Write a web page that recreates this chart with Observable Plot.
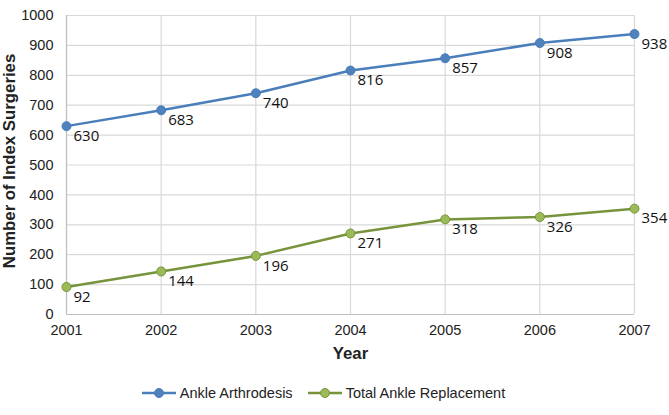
<!DOCTYPE html>
<html><head><meta charset="utf-8">
<script src="https://cdn.jsdelivr.net/npm/d3@7"></script>
<script src="https://cdn.jsdelivr.net/npm/@observablehq/plot@0.6"></script>
<style>
body{margin:0;background:#fff;font-family:"Liberation Sans",Arial,sans-serif;}
#legend{display:flex;justify-content:center;gap:15px;font-size:14.5px;color:#222;height:45px;align-items:center;padding-right:22px;}
.item{display:flex;align-items:center;gap:4px;}
#chart svg g[aria-label="x-axis tick label"], #chart svg g[aria-label="y-axis tick label"]{font-size:14.5px;fill:#222;}
</style></head><body>
<div id="chart"></div>
<div id="legend"></div>
<script>
const years = [2001, 2002, 2003, 2004, 2005, 2006, 2007];
const arthrodesis = [630, 683, 740, 816, 857, 908, 938];
const replacement = [92, 144, 196, 271, 318, 326, 354];
const seriesNames = ["Ankle Arthrodesis", "Total Ankle Replacement"];
const lineColors = ["#4a7ebb", "#77933c"];
const fillColors = ["#4f81bd", "#9bbb59"];
const yTicks = d3.range(0, 1001, 100);

const data = [];
[arthrodesis, replacement].forEach((vals, s) => vals.forEach((v, i) => data.push({year: years[i], value: v, series: seriesNames[s]})));

const plot = Plot.plot({
  width: 669, height: 370,
  marginLeft: 66, marginRight: 35, marginTop: 15, marginBottom: 56,
  style: {fontFamily: "'Liberation Sans', Arial, sans-serif", fontSize: "14.5px", color: "#222"},
  x: {domain: [2001, 2007], label: null},
  y: {domain: [0, 1000], label: null},
  color: {domain: seriesNames, range: lineColors},
  marks: [
    Plot.gridY(yTicks, {stroke: "#d9d9d9", strokeOpacity: 1, strokeWidth: 1.2}),
    Plot.gridX(years, {stroke: "#d9d9d9", strokeOpacity: 1, strokeWidth: 1.2}),
    Plot.ruleX([2001], {stroke: "#bfbfbf", strokeWidth: 1.2}),
    Plot.ruleY([0], {stroke: "#bfbfbf", strokeWidth: 1.2}),
    Plot.axisX({ticks: years, tickFormat: d => String(d), tickSize: 0, tickPadding: 10, label: null}),
    Plot.axisY({ticks: yTicks, tickFormat: d => String(d), tickSize: 0, tickPadding: 13, label: null}),
    Plot.line(data, {x: "year", y: "value", z: "series", stroke: "series", strokeWidth: 2.5}),
    Plot.dot(data, {x: "year", y: "value", fill: d => fillColors[seriesNames.indexOf(d.series)], stroke: "series", r: 4.5, strokeWidth: 1}),
    Plot.text(data, {x: "year", y: "value", text: d => String(d.value), dx: 7, dy: 10, textAnchor: "start", fontSize: 15, fill: "#111", fontFamily: "'Open Sans', 'Noto Sans', sans-serif"}),
    Plot.text(["Year"], {frameAnchor: "bottom", dy: 44, fontWeight: "bold", fontSize: 16.8, fill: "#222"}),
    Plot.text(["Number of Index Surgeries"], {frameAnchor: "left", textAnchor: "middle", rotate: -90, dx: -57, dy: -4, fontWeight: "bold", fontSize: 16.8, fill: "#222"})
  ]
});
document.getElementById("chart").appendChild(plot);

const leg = document.getElementById("legend");
seriesNames.forEach((n, i) => {
  const it = document.createElement("div"); it.className = "item";
  it.innerHTML = `<svg width="34" height="12"><line x1="0" x2="34" y1="6" y2="6" stroke="${lineColors[i]}" stroke-width="2.5"/><circle cx="17" cy="6" r="4.5" fill="${fillColors[i]}" stroke="${lineColors[i]}"/></svg><span>${n}</span>`;
  leg.appendChild(it);
});
</script>
</body></html>
